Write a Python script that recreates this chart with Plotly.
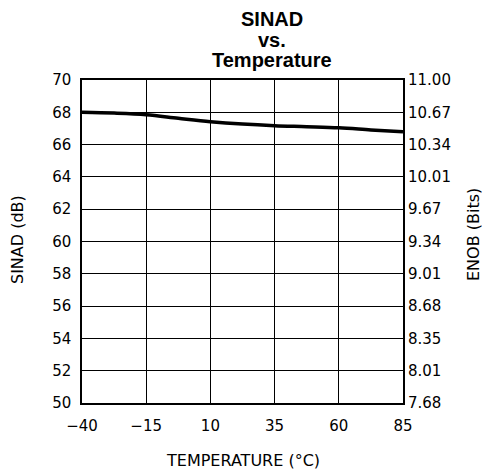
import plotly.graph_objects as go

temps = [-40, -27.5, -15, -2.5, 10, 22.5, 35, 47.5, 60, 72.5, 85]
sinad = [68.0, 67.95, 67.85, 67.63, 67.42, 67.27, 67.17, 67.11, 67.04, 66.91, 66.79]

x_ticks = [-40, -15, 10, 35, 60, 85]
y_ticks = [50, 52, 54, 56, 58, 60, 62, 64, 66, 68, 70]
enob_labels = ["7.68", "8.01", "8.35", "8.68", "9.01", "9.34", "9.67", "10.01", "10.34", "10.67", "11.00"]

tick_font = dict(family="DejaVu Sans", size=15, color="black")
lab_font = dict(family="DejaVu Sans", size=16, color="black")
title_font = dict(family="Liberation Sans", size=20, color="black")

L, R, T, B = 82, 79, 80, 69
W, H = 482, 472
pw, ph = W - L - R, H - T - B

def px(x):
    return (x - L) / pw

def py(y):
    return (H - B - y) / ph

fig = go.Figure()
fig.add_trace(go.Scatter(x=temps, y=sinad, mode="lines", line=dict(color="black", width=3.5),
                         line_shape="spline", showlegend=False))
fig.add_trace(go.Scatter(x=[temps[0]], y=[sinad[0]], yaxis="y2", mode="markers",
                         marker=dict(opacity=0), showlegend=False, hoverinfo="skip"))

ann = []
for txt, yy in [("SINAD", 19), ("vs.", 40), ("Temperature", 60)]:
    ann.append(dict(text="<b>%s</b>" % txt, xref="paper", yref="paper", x=px(272), y=py(yy),
                    xanchor="center", yanchor="middle", showarrow=False, font=title_font))
ann.append(dict(text="TEMPERATURE (°C)", xref="paper", yref="paper", x=px(243), y=py(460),
                xanchor="center", yanchor="middle", showarrow=False, font=lab_font))
ann.append(dict(text="SINAD (dB)", xref="paper", yref="paper", x=px(18), y=py(240), textangle=-90,
                xanchor="center", yanchor="middle", showarrow=False, font=lab_font))
ann.append(dict(text="ENOB (Bits)", xref="paper", yref="paper", x=px(473), y=py(235), textangle=-90,
                xanchor="center", yanchor="middle", showarrow=False, font=lab_font))

fig.update_layout(
    width=W, height=H,
    margin=dict(l=L, r=R, t=T, b=B, autoexpand=False),
    paper_bgcolor="white", plot_bgcolor="white",
    xaxis=dict(range=[-40, 85], tickvals=x_ticks, showgrid=True, gridcolor="black", gridwidth=1,
               showline=True, linecolor="black", linewidth=1.5, mirror=True, zeroline=False,
               ticks="", tickfont=tick_font, ticklabelstandoff=8, automargin=False),
    yaxis=dict(range=[50, 70], tickvals=y_ticks, showgrid=True, gridcolor="black", gridwidth=1,
               showline=True, linecolor="black", linewidth=1.5, mirror=True, zeroline=False,
               ticks="", tickfont=tick_font, ticklabelstandoff=6, automargin=False),
    yaxis2=dict(range=[50, 70], tickvals=y_ticks, ticktext=enob_labels, overlaying="y", side="right",
                showgrid=False, zeroline=False, ticks="", tickfont=tick_font, ticklabelstandoff=4,
                automargin=False),
    annotations=ann,
)

fig.write_html("out.html", config={"displayModeBar": False},
               post_script="document.body.style.margin='0';document.body.style.overflow='hidden';")
